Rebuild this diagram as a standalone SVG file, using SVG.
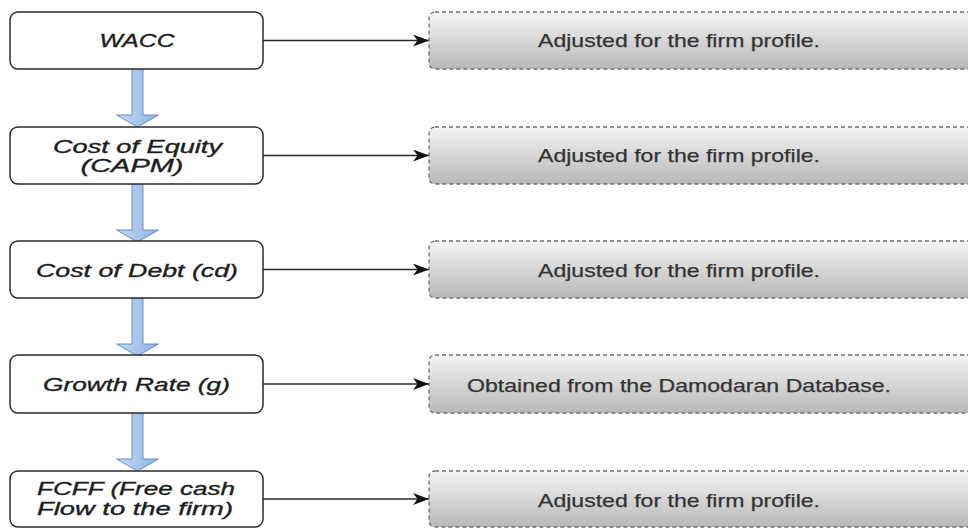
<svg xmlns="http://www.w3.org/2000/svg" width="968" height="528" viewBox="0 0 968 528">
<style>
.lbox{fill:#ffffff;stroke:#2b2b2b;stroke-width:1.5}
.rbox{fill:url(#gray);stroke:#6e6e6e;stroke-width:1.3;stroke-dasharray:4 3}
.ltxt{font-family:"Liberation Sans",Arial,sans-serif;font-style:italic;font-size:18px;fill:#1e1e1e;stroke:#1e1e1e;stroke-width:0.35;text-anchor:middle}
.rtxt{font-family:"Liberation Sans",Arial,sans-serif;font-size:18.5px;fill:#333333;stroke:#333333;stroke-width:0.25;text-anchor:middle}
.conn{stroke:#2a2a2a;stroke-width:1.4;fill:none;marker-end:url(#ah)}
.blk{fill:url(#blue);stroke:#6c8ebf;stroke-width:1}
</style>
<defs>
<linearGradient id="gray" x1="0" y1="0" x2="0" y2="1">
<stop offset="0" stop-color="#f4f4f4"/>
<stop offset="1" stop-color="#b8b8b8"/>
</linearGradient>
<linearGradient id="blue" x1="0" y1="0" x2="1" y2="0">
<stop offset="0" stop-color="#c4d8f3"/>
<stop offset="1" stop-color="#8fb2e4"/>
</linearGradient>
<marker id="ah" viewBox="0 0 16 12" refX="16" refY="6" markerWidth="16" markerHeight="12" markerUnits="userSpaceOnUse" orient="auto">
<path d="M0,0 L16,6 L0,12 L4.5,6 Z" fill="#111"/>
</marker>
<path id="blockarrow" d="M-5.5,0 L5.5,0 L5.5,46 L21,46 L0,58 L-21,46 L-5.5,46 Z"/>
</defs>

<g id="connectors">
<line class="conn" x1="263" y1="40.5" x2="429" y2="40.5"/>
<line class="conn" x1="263" y1="155.5" x2="429" y2="155.5"/>
<line class="conn" x1="263" y1="269.5" x2="429" y2="269.5"/>
<line class="conn" x1="263" y1="384" x2="429" y2="384"/>
<line class="conn" x1="263" y1="499" x2="429" y2="499"/>
<use href="#blockarrow" class="blk" x="137.5" y="69"/>
<use href="#blockarrow" class="blk" x="137.5" y="184"/>
<use href="#blockarrow" class="blk" x="137.5" y="298"/>
<use href="#blockarrow" class="blk" x="137.5" y="413"/>
</g>

<g id="wacc">
<rect class="lbox" x="10" y="12" width="253" height="57" rx="8"/>
<text class="ltxt" x="137" y="47" textLength="75" lengthAdjust="spacingAndGlyphs">WACC</text>
</g>
<g id="cost-equity">
<rect class="lbox" x="10" y="127" width="253" height="57" rx="8"/>
<text class="ltxt" x="137.5" y="153" textLength="169" lengthAdjust="spacingAndGlyphs">Cost of Equity</text>
<text class="ltxt" x="132" y="172" textLength="103" lengthAdjust="spacingAndGlyphs">(CAPM)</text>
</g>
<g id="cost-debt">
<rect class="lbox" x="10" y="241" width="253" height="57" rx="8"/>
<text class="ltxt" x="137" y="277" textLength="202" lengthAdjust="spacingAndGlyphs">Cost of Debt (cd)</text>
</g>
<g id="growth">
<rect class="lbox" x="10" y="355" width="253" height="58" rx="8"/>
<text class="ltxt" x="136.5" y="391" textLength="187" lengthAdjust="spacingAndGlyphs">Growth Rate (g)</text>
</g>
<g id="fcff">
<rect class="lbox" x="10" y="471" width="253" height="56" rx="8"/>
<text class="ltxt" x="136" y="495" textLength="198" lengthAdjust="spacingAndGlyphs">FCFF (Free cash</text>
<text class="ltxt" x="135" y="515" textLength="196" lengthAdjust="spacingAndGlyphs">Flow to the firm)</text>
</g>

<g id="note-wacc">
<rect class="rbox" x="429" y="12" width="560" height="57" rx="6"/>
<text class="rtxt" x="679" y="47" textLength="282" lengthAdjust="spacingAndGlyphs">Adjusted for the firm profile.</text>
</g>
<g id="note-equity">
<rect class="rbox" x="429" y="127" width="560" height="57" rx="6"/>
<text class="rtxt" x="679" y="162" textLength="282" lengthAdjust="spacingAndGlyphs">Adjusted for the firm profile.</text>
</g>
<g id="note-debt">
<rect class="rbox" x="429" y="241" width="560" height="57" rx="6"/>
<text class="rtxt" x="679" y="277" textLength="282" lengthAdjust="spacingAndGlyphs">Adjusted for the firm profile.</text>
</g>
<g id="note-growth">
<rect class="rbox" x="429" y="355" width="560" height="58" rx="6"/>
<text class="rtxt" x="679" y="391.5" textLength="424" lengthAdjust="spacingAndGlyphs">Obtained from the Damodaran Database.</text>
</g>
<g id="note-fcff">
<rect class="rbox" x="429" y="471" width="560" height="56" rx="6"/>
<text class="rtxt" x="679" y="507" textLength="282" lengthAdjust="spacingAndGlyphs">Adjusted for the firm profile.</text>
</g>
</svg>
